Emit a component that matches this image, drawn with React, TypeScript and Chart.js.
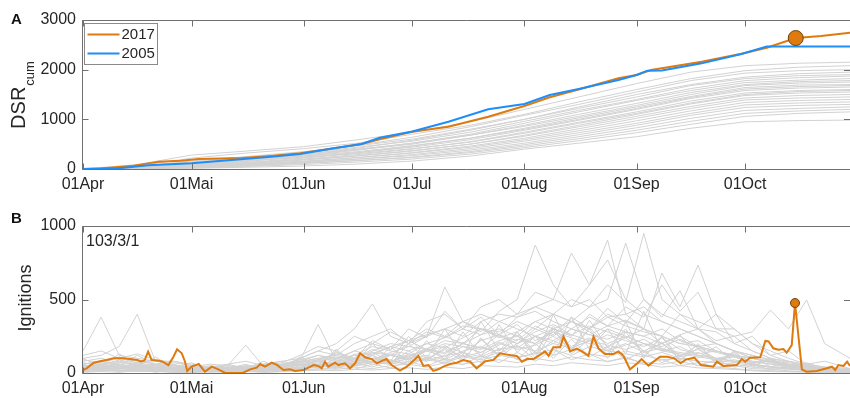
import React, { useEffect, useRef } from 'react';
import { Chart, registerables } from 'chart.js';

Chart.register(...registerables);

// ---------- axes / labels ----------
const MONTH_DAYS = [0, 30, 61, 91, 122, 153, 183]; // days since 01 Apr
const MONTH_LABELS = ['01Apr', '01Mai', '01Jun', '01Jul', '01Aug', '01Sep', '01Oct'];
const X_MAX = 212;
const DSR_TICKS = [0, 1000, 2000, 3000];
const IGN_TICKS = [0, 500, 1000];
const LEGEND_LABELS = ['2017', '2005'];
const PANEL_B_NOTE = '103/3/1';

// ---------- panel A: cumulative DSR ----------
const DSR_2017: [number, number][] = [
  [0, 0], [5, 12], [14, 66], [18, 113], [21, 148], [27, 167], [32, 200], [44, 220], [52, 262],
  [60, 315], [68, 403], [77, 503], [82, 600], [91, 750], [101, 852], [112, 1053], [122, 1268],
  [129, 1443], [137, 1600], [148, 1826], [153, 1893], [157, 1993], [171, 2160], [182, 2320],
  [189, 2443], [197, 2637], [204, 2678], [212, 2745],
];
const DSR_2005: [number, number][] = [
  [0, 0], [10, 15], [18, 75], [30, 115], [41, 180], [52, 248], [60, 300], [68, 403], [77, 503],
  [82, 630], [91, 755], [101, 952], [112, 1202], [122, 1310], [129, 1490], [137, 1610],
  [148, 1792], [153, 1893], [156, 1980], [160, 1985], [171, 2127], [182, 2315], [189, 2465],
  [212, 2465],
];
const FIRE_DAY = 197; // 15 Oct
const FIRE_DSR = 2637;
const FIRE_IGN = 476;

const GRAY_DSR_DAYS = [0, 15, 30, 45, 61, 76, 91, 107, 122, 137, 153, 168, 183, 198, 212];
const GRAY_DSR_SERIES: number[][] = [
  [0, 90, 280, 360, 450, 590, 740, 950, 1200, 1450, 1720, 1950, 2080, 2130, 2150],
  [0, 60, 220, 320, 410, 520, 700, 880, 1100, 1350, 1600, 1820, 1980, 2050, 2080],
  [0, 30, 120, 220, 330, 480, 640, 850, 1080, 1300, 1550, 1780, 1930, 1980, 2000],
  [0, 50, 160, 250, 350, 470, 600, 800, 1000, 1250, 1500, 1700, 1850, 1920, 1950],
  [0, 20, 90, 180, 300, 420, 580, 780, 1000, 1220, 1450, 1680, 1820, 1880, 1900],
  [0, 35, 140, 240, 320, 440, 560, 740, 960, 1180, 1400, 1620, 1780, 1840, 1870],
  [0, 15, 70, 150, 260, 380, 520, 700, 920, 1150, 1380, 1580, 1740, 1790, 1820],
  [0, 25, 100, 190, 280, 390, 500, 680, 880, 1100, 1320, 1540, 1700, 1760, 1780],
  [0, 45, 130, 210, 300, 400, 520, 680, 860, 1060, 1280, 1500, 1680, 1730, 1750],
  [0, 10, 60, 130, 220, 330, 460, 620, 820, 1030, 1250, 1460, 1640, 1690, 1700],
  [0, 30, 110, 190, 260, 350, 470, 620, 800, 1000, 1220, 1440, 1610, 1660, 1680],
  [0, 20, 80, 160, 240, 330, 440, 590, 780, 980, 1200, 1420, 1580, 1630, 1650],
  [0, 15, 60, 120, 200, 290, 400, 550, 740, 940, 1150, 1370, 1530, 1580, 1600],
  [0, 30, 100, 170, 230, 310, 410, 540, 720, 920, 1120, 1330, 1500, 1560, 1580],
  [0, 10, 50, 110, 180, 260, 360, 500, 680, 880, 1100, 1310, 1480, 1530, 1550],
  [0, 20, 70, 130, 190, 270, 370, 500, 660, 850, 1060, 1260, 1430, 1480, 1500],
  [0, 10, 40, 90, 150, 230, 330, 460, 620, 810, 1020, 1220, 1390, 1430, 1450],
  [0, 15, 55, 100, 160, 230, 320, 440, 590, 770, 970, 1170, 1340, 1380, 1400],
  [0, 5, 35, 80, 130, 200, 290, 410, 560, 730, 920, 1120, 1290, 1330, 1350],
  [0, 10, 45, 90, 140, 200, 270, 380, 520, 690, 880, 1080, 1240, 1280, 1300],
  [0, 5, 25, 60, 110, 170, 240, 350, 490, 650, 830, 1020, 1180, 1220, 1250],
  [0, 5, 30, 70, 120, 170, 230, 330, 460, 610, 780, 960, 1120, 1170, 1200],
  [0, 5, 20, 50, 90, 140, 200, 300, 430, 570, 730, 900, 1060, 1120, 1150],
  [0, 5, 15, 35, 60, 100, 160, 260, 400, 520, 650, 820, 950, 975, 985],
];

// ---------- panel B: daily ignitions ----------
const IGNITIONS_2017: [number, number][] = [
  [0, 20], [1, 32], [3, 70], [5, 82], [6.5, 88], [8.4, 100], [11, 100], [13, 95], [15, 88],
  [16, 79], [17, 85], [18, 145], [19, 88], [21, 84], [22, 77], [23.6, 54], [25, 111], [26, 161],
  [27.3, 134], [28.2, 77], [28.8, 14], [30, 43], [32, 61], [33.7, 9], [35.6, 43], [37.4, 25],
  [39.3, 0], [41.6, 0], [44.3, 2], [46.2, 25], [48, 36], [49, 61], [50.3, 43], [52.2, 70],
  [53.6, 55], [55.4, 20], [57.2, 25], [58.6, 14], [60.9, 20], [62.3, 36], [63.7, 54], [65, 48],
  [66, 32], [66.9, 77], [67.8, 43], [69.7, 70], [70.6, 54], [72.4, 66], [73.8, 32], [75.2, 66],
  [76.6, 134], [78, 107], [79.8, 95], [81.2, 66], [82.6, 82], [83.9, 95], [85.3, 54], [87.6, 16],
  [89.5, 43], [91.3, 84], [92.7, 116], [94.1, 48], [95.5, 54], [96.8, 14], [98.2, 25], [99.6, 43],
  [101.5, 61], [103.3, 70], [105.1, 88], [107, 77], [108.8, 32], [111.1, 79], [113.4, 88],
  [115.3, 134], [117.1, 125], [119.9, 116], [121.3, 77], [122.7, 95], [124.5, 95], [125.9, 116],
  [127.7, 147], [128.7, 116], [130, 175], [131.9, 175], [132.8, 247], [134.2, 177], [134.6, 147],
  [136.5, 166], [137.9, 147], [139.7, 116], [141.1, 247], [142.5, 166], [144.3, 129], [146.6, 129],
  [148, 147], [149.4, 116], [151.2, 25], [153.4, 70], [154.4, 95], [156.3, 50], [158.1, 85],
  [159.5, 110], [161.5, 111], [163.4, 100], [165.2, 66], [166.6, 91], [169, 104], [170.8, 54],
  [174.2, 43], [175.2, 77], [177, 48], [180.7, 54], [182.1, 95], [183, 77], [184.4, 104],
  [187.2, 107], [188.6, 218], [189.5, 215], [190.8, 168], [192.2, 159], [193.6, 163], [194.5, 138],
  [195.9, 190], [196.8, 476], [198.7, 25], [200, 9], [202.8, 14], [205.6, 32], [207, 43],
  [207.9, 20], [208.8, 54], [210.2, 48], [211.2, 77], [212, 48],
];

const GRAY_IGN_DAYS = [
  0, 5, 10, 15, 20, 25, 30, 35, 40, 45, 50, 55, 60, 65, 70, 75, 80, 85, 90, 95, 100, 105,
  110, 115, 120, 125, 130, 135, 140, 145, 150, 155, 160, 165, 170, 175, 180, 185, 190, 195,
  200, 205, 212,
];
const GRAY_IGN_SERIES: number[][] = [
  [20, 30, 25, 40, 35, 20, 15, 10, 20, 15, 30, 25, 40, 50, 60, 45, 70, 60, 80, 90, 70, 110, 90, 120, 100, 140, 120, 160, 130, 110, 150, 120, 90, 100, 80, 70, 60, 40, 30, 25, 20, 15, 10],
  [40, 60, 80, 50, 40, 30, 20, 30, 25, 40, 30, 50, 80, 100, 120, 90, 150, 200, 180, 250, 300, 350, 280, 420, 500, 870, 600, 450, 500, 380, 400, 300, 250, 200, 180, 150, 120, 100, 80, 60, 50, 30, 20],
  [60, 80, 60, 40, 50, 30, 25, 20, 30, 40, 50, 60, 90, 120, 100, 150, 200, 160, 220, 260, 300, 250, 350, 400, 380, 450, 400, 500, 450, 600, 480, 950, 500, 400, 350, 300, 250, 150, 100, 80, 60, 40, 30],
  [150, 380, 120, 100, 80, 60, 30, 20, 15, 40, 20, 30, 60, 40, 80, 60, 100, 80, 120, 150, 110, 180, 140, 200, 170, 250, 200, 300, 260, 320, 280, 250, 300, 220, 180, 200, 150, 100, 80, 60, 40, 30, 20],
  [100, 120, 180, 400, 80, 80, 50, 30, 20, 25, 40, 20, 50, 80, 60, 100, 140, 120, 90, 160, 130, 200, 170, 150, 230, 200, 280, 240, 200, 260, 220, 180, 240, 160, 130, 150, 110, 80, 60, 40, 30, 25, 15],
  [30, 50, 40, 60, 30, 20, 15, 25, 40, 30, 60, 80, 100, 150, 200, 300, 470, 250, 200, 250, 585, 350, 400, 350, 300, 250, 300, 350, 280, 200, 250, 200, 150, 180, 120, 100, 80, 60, 40, 30, 20, 15, 10],
  [20, 25, 30, 20, 15, 25, 10, 20, 15, 10, 20, 30, 40, 60, 50, 80, 100, 120, 90, 150, 180, 140, 220, 260, 200, 300, 250, 350, 300, 400, 350, 300, 680, 450, 734, 400, 300, 200, 150, 100, 60, 40, 30],
  [50, 40, 70, 60, 40, 50, 30, 20, 40, 30, 50, 40, 70, 90, 110, 80, 130, 180, 150, 200, 240, 300, 260, 350, 400, 450, 500, 816, 600, 769, 500, 400, 350, 300, 250, 200, 150, 120, 90, 60, 40, 30, 20],
  [10, 20, 15, 30, 20, 10, 5, 10, 15, 20, 10, 20, 30, 50, 40, 60, 80, 70, 100, 120, 90, 150, 180, 130, 200, 250, 220, 300, 260, 230, 280, 250, 200, 260, 300, 220, 250, 280, 428, 300, 497, 200, 100],
  [80, 100, 70, 90, 60, 50, 40, 60, 50, 190, 40, 60, 80, 120, 90, 150, 120, 180, 220, 160, 250, 200, 300, 240, 280, 350, 300, 260, 320, 280, 240, 300, 200, 250, 180, 150, 120, 100, 70, 50, 40, 30, 20],
  [40, 30, 50, 40, 20, 30, 20, 15, 10, 20, 15, 25, 30, 40, 60, 50, 70, 90, 60, 100, 80, 120, 100, 140, 110, 130, 160, 120, 180, 150, 130, 110, 140, 100, 80, 70, 90, 60, 40, 30, 20, 10, 5],
  [60, 80, 100, 70, 90, 50, 40, 30, 50, 40, 60, 50, 100, 150, 120, 200, 250, 300, 200, 350, 400, 300, 450, 500, 400, 550, 500, 450, 600, 905, 400, 450, 350, 300, 250, 200, 150, 100, 80, 50, 40, 30, 20],
  [10, 15, 20, 10, 15, 5, 10, 5, 10, 15, 5, 10, 20, 30, 25, 40, 30, 50, 60, 40, 70, 60, 80, 90, 70, 100, 80, 110, 90, 80, 100, 70, 60, 80, 50, 40, 30, 20, 15, 10, 10, 5, 5],
  [30, 40, 60, 40, 30, 50, 30, 20, 30, 20, 40, 30, 60, 50, 80, 100, 70, 120, 100, 150, 200, 180, 160, 220, 250, 200, 300, 250, 400, 320, 450, 380, 600, 420, 550, 300, 300, 200, 120, 80, 50, 30, 20],
  [120, 150, 100, 130, 90, 70, 50, 40, 60, 80, 50, 70, 120, 180, 150, 250, 200, 280, 220, 300, 250, 350, 300, 280, 350, 300, 400, 350, 300, 380, 320, 280, 250, 200, 220, 150, 120, 100, 70, 50, 30, 20, 15],
  [20, 40, 30, 50, 60, 40, 30, 40, 50, 30, 60, 80, 50, 90, 130, 100, 160, 120, 200, 280, 240, 320, 300, 260, 380, 420, 350, 300, 380, 320, 360, 300, 250, 400, 300, 200, 150, 120, 90, 60, 40, 20, 10],
  [50, 60, 40, 70, 50, 40, 20, 30, 20, 30, 40, 50, 60, 80, 100, 120, 90, 140, 180, 160, 220, 200, 260, 300, 250, 350, 400, 350, 450, 500, 884, 500, 400, 350, 300, 280, 200, 150, 100, 70, 50, 30, 20],
  [90, 70, 110, 80, 60, 80, 60, 40, 30, 50, 40, 60, 70, 100, 80, 120, 180, 150, 130, 200, 170, 240, 300, 250, 200, 280, 330, 260, 220, 300, 250, 200, 180, 230, 170, 140, 110, 80, 60, 40, 30, 20, 15],
  [5, 10, 5, 15, 10, 5, 5, 10, 5, 10, 5, 10, 15, 20, 15, 25, 20, 30, 35, 25, 40, 30, 50, 45, 40, 60, 50, 70, 60, 50, 70, 60, 40, 50, 35, 30, 25, 15, 10, 8, 5, 5, 3],
  [30, 20, 40, 25, 35, 20, 15, 25, 20, 15, 25, 20, 35, 45, 40, 60, 80, 60, 100, 80, 120, 140, 110, 160, 180, 150, 200, 170, 220, 190, 160, 200, 150, 130, 110, 90, 70, 50, 40, 30, 20, 15, 10],
  [60, 20, 90, 40, 110, 30, 70, 20, 60, 30, 80, 20, 100, 40, 150, 60, 200, 80, 250, 100, 300, 120, 350, 150, 280, 100, 400, 150, 300, 120, 350, 100, 250, 80, 200, 60, 150, 40, 100, 30, 60, 20, 10],
  [20, 70, 30, 50, 20, 60, 10, 40, 20, 50, 10, 60, 30, 90, 40, 130, 50, 180, 70, 220, 90, 280, 110, 330, 140, 250, 120, 380, 160, 300, 130, 420, 150, 260, 100, 180, 70, 120, 40, 80, 30, 40, 15],
  [100, 40, 130, 60, 90, 30, 50, 15, 40, 20, 60, 30, 110, 50, 160, 70, 120, 60, 200, 90, 160, 80, 240, 110, 190, 90, 300, 130, 230, 100, 280, 120, 210, 90, 170, 70, 130, 50, 90, 30, 50, 20, 10],
  [10, 40, 15, 30, 5, 25, 10, 30, 5, 20, 10, 30, 20, 50, 30, 70, 40, 90, 50, 110, 60, 140, 70, 170, 90, 200, 100, 230, 110, 180, 90, 150, 70, 120, 50, 90, 40, 60, 20, 40, 10, 20, 5],
  [50, 30, 60, 20, 40, 20, 30, 10, 40, 20, 50, 30, 90, 330, 80, 60, 120, 70, 150, 80, 190, 90, 230, 120, 280, 140, 320, 150, 360, 170, 300, 140, 240, 110, 190, 80, 140, 60, 100, 40, 70, 30, 15],
  [30, 80, 50, 120, 60, 40, 20, 50, 30, 60, 20, 40, 70, 40, 100, 60, 140, 80, 110, 170, 90, 210, 120, 190, 260, 130, 220, 160, 310, 180, 240, 150, 200, 120, 160, 100, 120, 70, 90, 50, 40, 25, 10],
  [15, 25, 10, 20, 10, 15, 5, 15, 5, 10, 20, 10, 30, 20, 40, 25, 60, 35, 80, 45, 100, 55, 120, 70, 140, 80, 160, 90, 130, 75, 110, 60, 90, 50, 70, 40, 50, 30, 25, 15, 10, 5, 5],
  [40, 60, 30, 50, 25, 35, 20, 30, 15, 25, 30, 45, 50, 70, 60, 90, 80, 130, 110, 160, 140, 200, 170, 260, 220, 320, 260, 380, 300, 440, 340, 500, 380, 560, 300, 400, 200, 250, 120, 150, 60, 80, 30],
  [70, 50, 90, 60, 40, 30, 25, 35, 20, 30, 45, 35, 80, 60, 140, 100, 220, 160, 300, 240, 420, 300, 380, 260, 330, 220, 280, 180, 240, 160, 200, 140, 170, 110, 140, 90, 110, 70, 80, 50, 40, 30, 20],
  [25, 35, 45, 30, 55, 25, 35, 15, 25, 35, 20, 40, 55, 35, 75, 50, 100, 70, 130, 90, 170, 110, 140, 210, 160, 190, 250, 170, 220, 150, 190, 230, 160, 140, 120, 100, 80, 60, 45, 35, 25, 15, 10],
];

// ---------- styles ----------
const FONT = "'Liberation Sans', Arial, Helvetica, sans-serif";
const AXIS_COLOR = '#707070';
const TEXT_COLOR = '#262626';
const ORANGE = '#DE7A0E';
const ORANGE_EDGE = '#6b4210';
const BLUE = '#1E8EFA';
const GRAY = '#d2d2d2';
const WIDTH = 850;

const toPts = (days: number[], vals: number[]) =>
  vals.map((v, i) => ({ x: days[i], y: v })).filter((p) => p.x !== undefined);
const pairPts = (pairs: [number, number][]) => pairs.map(([x, y]) => ({ x, y }));

const framePlugin = {
  id: 'frame',
  afterDraw(chart: any, _args: any, opts: any) {
    const { ctx, chartArea: a, scales } = chart;
    const xs = scales.x;
    const ys = scales.y;
    const L = Math.round(a.left) - 0.5;
    const T = Math.round(a.top) + 0.5;
    const B = Math.round(a.bottom) + 0.5;
    const R = a.right;
    ctx.save();
    ctx.strokeStyle = AXIS_COLOR;
    ctx.lineWidth = 1;
    ctx.beginPath();
    ctx.moveTo(R, T);
    ctx.lineTo(L, T);
    ctx.lineTo(L, B);
    ctx.lineTo(R, B);
    for (const d of MONTH_DAYS) {
      const x = Math.round(xs.getPixelForValue(d)) + 0.5;
      ctx.moveTo(x, B);
      ctx.lineTo(x, B - 6);
      ctx.moveTo(x, T);
      ctx.lineTo(x, T + 6);
    }
    for (const v of opts.yTicks as number[]) {
      const y = Math.round(ys.getPixelForValue(v)) + 0.5;
      ctx.moveTo(L, y);
      ctx.lineTo(L + 6, y);
      ctx.moveTo(R, y);
      ctx.lineTo(R - 6, y);
    }
    ctx.stroke();

    // panel letter
    ctx.fillStyle = '#111';
    ctx.font = `bold 15px ${FONT}`;
    ctx.textAlign = 'left';
    ctx.textBaseline = 'alphabetic';
    ctx.fillText(opts.letter, 11, opts.letterY);

    // y axis title
    ctx.fillStyle = TEXT_COLOR;
    ctx.save();
    ctx.translate(opts.titleX, opts.titleY);
    ctx.rotate(-Math.PI / 2);
    if (opts.sub) {
      ctx.font = `13px ${FONT}`;
      const sw = ctx.measureText(opts.sub).width;
      ctx.font = `20px ${FONT}`;
      const w = ctx.measureText(opts.title).width;
      const start = -(w + 1 + sw) / 2;
      ctx.textAlign = 'left';
      ctx.fillText(opts.title, start, 0);
      ctx.font = `13px ${FONT}`;
      ctx.fillText(opts.sub, start + w + 1, 9);
    } else {
      ctx.font = `18px ${FONT}`;
      ctx.textAlign = 'center';
      ctx.fillText(opts.title, 0, 0);
    }
    ctx.restore();

    if (opts.note) {
      ctx.font = `16px ${FONT}`;
      ctx.textAlign = 'left';
      ctx.fillStyle = TEXT_COLOR;
      ctx.fillText(opts.note, a.left + 3, a.top + 20);
    }

    if (opts.legend) {
      const bx = a.left + 1.5;
      const by = a.top + 3.5;
      ctx.fillStyle = '#fff';
      ctx.fillRect(bx, by, 73, 41);
      ctx.strokeStyle = '#8a8a8a';
      ctx.lineWidth = 1;
      ctx.strokeRect(bx, by, 73, 41);
      (opts.legend as { label: string; color: string }[]).forEach((it, i) => {
        const y = by + 11 + i * 19;
        ctx.strokeStyle = it.color;
        ctx.lineWidth = 2;
        ctx.beginPath();
        ctx.moveTo(bx + 3, y);
        ctx.lineTo(bx + 35, y);
        ctx.stroke();
        ctx.fillStyle = TEXT_COLOR;
        ctx.font = `15px ${FONT}`;
        ctx.textAlign = 'left';
        ctx.textBaseline = 'middle';
        ctx.fillText(it.label, bx + 37, y + 0.5);
      });
    }
    ctx.restore();
  },
};

function baseOptions(yMax: number, yTicks: number[], top: number, xHeight: number, frame: any) {
  return {
    animation: false,
    responsive: false,
    devicePixelRatio: 1,
    events: [],
    layout: { autoPadding: false, padding: { top, left: 0, right: 0, bottom: 0 } },
    elements: { point: { radius: 0 }, line: { tension: 0 } },
    plugins: { legend: { display: false }, tooltip: { enabled: false }, frame },
    scales: {
      x: {
        type: 'linear',
        min: 0,
        max: X_MAX,
        afterBuildTicks: (s: any) => {
          s.ticks = MONTH_DAYS.map((v) => ({ value: v }));
        },
        afterFit: (s: any) => {
          s.height = xHeight;
          s.paddingLeft = 0;
          s.paddingRight = 0;
        },
        grid: { display: false, drawTicks: false },
        border: { display: false },
        ticks: {
          autoSkip: false,
          maxRotation: 0,
          padding: 6,
          color: TEXT_COLOR,
          font: { family: FONT, size: 16 },
          callback: (v: number) => {
            const i = MONTH_DAYS.indexOf(v);
            return i >= 0 ? MONTH_LABELS[i] : '';
          },
        },
      },
      y: {
        min: 0,
        max: yMax,
        afterBuildTicks: (s: any) => {
          s.ticks = yTicks.map((v) => ({ value: v }));
        },
        afterFit: (s: any) => {
          s.width = 83;
        },
        grid: { display: false, drawTicks: false },
        border: { display: false },
        ticks: {
          padding: 7,
          color: TEXT_COLOR,
          font: { family: FONT, size: 16 },
          callback: (v: number) => String(v),
        },
      },
    },
  };
}

export default function App() {
  const refA = useRef<HTMLCanvasElement>(null);
  const refB = useRef<HTMLCanvasElement>(null);

  useEffect(() => {
    const grayA = GRAY_DSR_SERIES.map((s) => ({
      data: toPts(GRAY_DSR_DAYS, s),
      borderColor: GRAY,
      borderWidth: 1,
      pointRadius: 0,
    }));
    const chartA = new Chart(refA.current as HTMLCanvasElement, {
      type: 'line',
      data: {
        datasets: [
          {
            data: [{ x: FIRE_DAY, y: FIRE_DSR }],
            showLine: false,
            pointRadius: 7.5,
            pointBackgroundColor: ORANGE,
            pointBorderColor: ORANGE_EDGE,
            pointBorderWidth: 1,
          },
          { data: pairPts(DSR_2005), borderColor: BLUE, borderWidth: 2, pointRadius: 0 },
          { data: pairPts(DSR_2017), borderColor: ORANGE, borderWidth: 2, pointRadius: 0 },
          ...grayA,
        ] as any,
      },
      options: baseOptions(3000, DSR_TICKS, 20, 31, {
        yTicks: DSR_TICKS,
        letter: 'A',
        letterY: 24,
        title: 'DSR',
        sub: 'cum',
        titleX: 25,
        titleY: 95,
        legend: [
          { label: LEGEND_LABELS[0], color: ORANGE },
          { label: LEGEND_LABELS[1], color: BLUE },
        ],
      }) as any,
      plugins: [framePlugin],
    });

    const grayB = GRAY_IGN_SERIES.map((s) => ({
      data: toPts(GRAY_IGN_DAYS, s),
      borderColor: GRAY,
      borderWidth: 1,
      pointRadius: 0,
    }));
    const chartB = new Chart(refB.current as HTMLCanvasElement, {
      type: 'line',
      data: {
        datasets: [
          {
            data: [{ x: FIRE_DAY - 0.2, y: FIRE_IGN }],
            showLine: false,
            pointRadius: 4.5,
            pointBackgroundColor: ORANGE,
            pointBorderColor: ORANGE_EDGE,
            pointBorderWidth: 1,
          },
          { data: pairPts(IGNITIONS_2017), borderColor: ORANGE, borderWidth: 2, pointRadius: 0 },
          ...grayB,
        ] as any,
      },
      options: baseOptions(1000, IGN_TICKS, 26, 25, {
        yTicks: IGN_TICKS,
        letter: 'B',
        letterY: 23,
        title: 'Ignitions',
        titleX: 31,
        titleY: 98,
        note: PANEL_B_NOTE,
      }) as any,
      plugins: [framePlugin],
    });

    return () => {
      chartA.destroy();
      chartB.destroy();
    };
  }, []);

  return (
    <div style={{ position: 'absolute', left: 0, top: 0, width: WIDTH, height: 398, background: '#fff' }}>
      <canvas ref={refA} width={WIDTH} height={200} style={{ position: 'absolute', left: 0, top: 0 }} />
      <canvas ref={refB} width={WIDTH} height={198} style={{ position: 'absolute', left: 0, top: 200 }} />
    </div>
  );
}
